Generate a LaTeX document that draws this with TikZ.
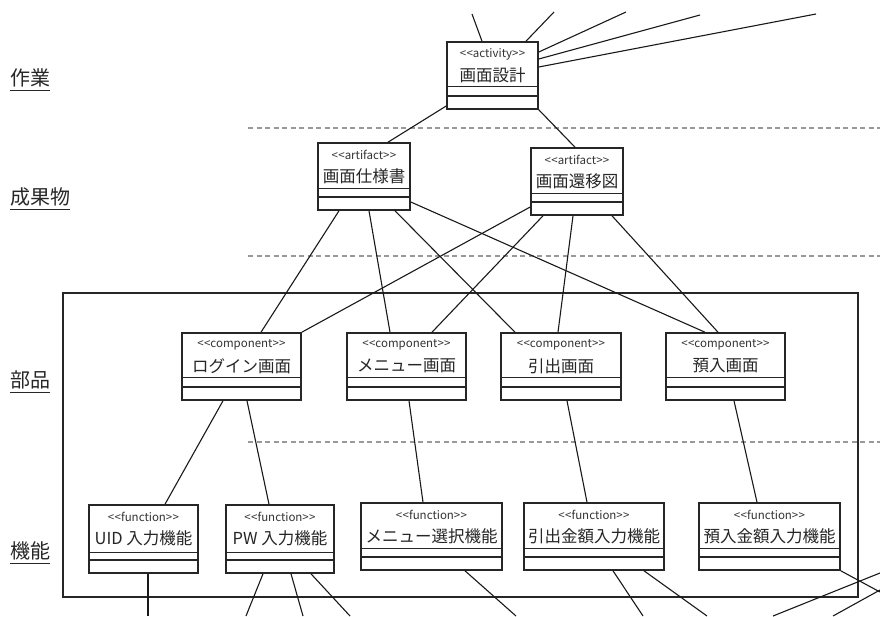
\documentclass[tikz,border=0pt]{standalone}
\usepackage{fontspec}
\setmainfont{Noto Sans CJK JP}
\usetikzlibrary{calc}

% angle brackets kept apart so that no guillemet ligature forms
\newcommand\lguil{<\kern0.3pt<}
\newcommand\rguil{>\kern0.3pt>}

% class-like box: name, left, top, right, bottom, sep1, sep2, stereotype, title
\newcommand\umlclass[9]{%
  \node[classbox, minimum width={(#4-#2)*1pt}, minimum height={(#5-#3)*1pt}]
    (#1) at ({(#2+#4)/2},{(#3+#5)/2}) {};
  \draw[septhin] (#1.west |- 0,#6) -- (#1.east |- 0,#6);
  \draw[septhick] (#1.west |- 0,#7) -- (#1.east |- 0,#7);
  \node[stereo] (#1-st) at ({(#2+#4)/2},{#3+12}) {\lguil#8\rguil};
  \node[title] (#1-ti) at ({(#2+#4)/2},{#3+33}) {#9};
}

\begin{document}
\begin{tikzpicture}[x=1pt,y=-1pt,
  classbox/.style={draw=black!85, line width=1.6pt, fill=white, inner sep=0pt},
  septhin/.style={draw=black!85, line width=1pt},
  septhick/.style={draw=black!85, line width=1.6pt},
  link/.style={draw=black!90, line width=1.1pt},
  lane/.style={draw=black!40, line width=1.6pt, dash pattern=on 5pt off 3.5pt},
  frame/.style={draw=black!85, line width=1.6pt},
  stereo/.style={font=\fontsize{11.5}{13}\selectfont, inner sep=0pt, text=black!80},
  title/.style={font=\fontsize{16.5}{18}\selectfont, inner sep=0pt, text=black!85},
  layer/.style={font=\fontsize{20}{22}\selectfont, inner sep=0pt, anchor=west, text=black!85},
]
\useasboundingbox (0,0) rectangle (880,616);

% swim-lane separators
\draw[lane] (248,128) -- (880,128);
\draw[lane] (248,256) -- (880,256);
\draw[lane] (248,442) -- (880,442);

% lane titles
\foreach \n/\t/\y in {l1/作業/78, l2/成果物/197, l3/部品/380, l4/機能/551}{
  \node[layer] (\n) at (10,\y) {\t};
  \draw[line width=0.8pt, black!85] ($(\n.south west)+(0,3)$) -- ($(\n.south east)+(0,3)$);
}

% component frame
\node[frame, minimum width=795pt, minimum height=304pt, inner sep=0pt] (frm) at (460.5,445) {};

% activity
\umlclass{act}{447}{42}{538}{109}{86}{96}{activity}{画面設計}
% artifacts
\umlclass{spec}{318}{143}{410}{210}{188}{197}{artifact}{画面仕様書}
\umlclass{trans}{531}{148}{623}{215}{193}{202}{artifact}{画面還移図}
% components
\umlclass{login}{182}{333}{301}{400}{377}{387}{component}{ログイン画面}
\umlclass{menu}{347}{333}{466}{400}{377}{387}{component}{メニュー画面}
\umlclass{draw}{501}{333}{621}{400}{377}{387}{component}{引出画面}
\umlclass{dep}{666}{333}{785}{400}{377}{387}{component}{預入画面}
% functions
\umlclass{uid}{89}{505}{198}{573}{552}{560}{function}{UID 入力機能}
\umlclass{pw}{226}{505}{334}{573}{552}{560}{function}{PW 入力機能}
\umlclass{msel}{361}{503}{502}{570}{548}{557}{function}{メニュー選択機能}
\umlclass{amt}{524}{503}{664}{570}{548}{557}{function}{引出金額入力機能}
\umlclass{damt}{699}{503}{840}{570}{548}{557}{function}{預入金額入力機能}

% loose ends leaving the sheet
\coordinate (u1) at (472,14);
\coordinate (u2) at (554,12);
\coordinate (u3) at (626,12);
\coordinate (u4) at (700,15);
\coordinate (u5) at (816,14);
\coordinate (d1) at (148,616);
\coordinate (d2) at (246,616);
\coordinate (d3) at (303,616);
\coordinate (d4) at (350,616);
\coordinate (d5) at (516,616);
\coordinate (d6) at (643,616);
\coordinate (d7) at (707,616);
\coordinate (r1) at (880,592);
\coordinate (r2) at (880,573);
\coordinate (r3) at (880,590);
\coordinate (b1) at (773,616);
\coordinate (b2) at (833,616);

% activity links
\draw[link] (act.north -| 482,0) -- (u1);
\draw[link] (act.north -| 526,0) -- (u2);
\draw[link] (act.east |- 0,52) -- (u3);
\draw[link] (act.east |- 0,59) -- (u4);
\draw[link] (act.east |- 0,67) -- (u5);
\draw[link] (act.west |- 0,106) -- (spec.north -| 388,0);
\draw[link] (act.south east) -- (trans.north -| 575,0);

% artifact -> component
\draw[link] (spec.south -| 339,0) -- (login.north -| 261,0);
\draw[link] (spec.south -| 369,0) -- (menu.north -| 390,0);
\draw[link] (spec.south -| 395,0) -- (draw.north -| 515,0);
\draw[link] (spec.east |- 0,202) -- (dep.north -| 705,0);
\draw[link] (trans.west |- 0,207) -- (login.north east);
\draw[link] (trans.south -| 543,0) -- (menu.north -| 432,0);
\draw[link] (trans.south -| 573,0) -- (draw.north -| 558,0);
\draw[link] (trans.south -| 612,0) -- (dep.north -| 718,0);

% component -> function
\draw[link] (login.south -| 223,0) -- (uid.north -| 165,0);
\draw[link] (login.south -| 247,0) -- (pw.north -| 269,0);
\draw[link] (menu.south -| 409,0) -- (msel.north -| 423,0);
\draw[link] (draw.south -| 567,0) -- (amt.north -| 587,0);
\draw[link] (dep.south -| 734,0) -- (damt.north -| 757,0);

% function links below
\draw[link] (uid.south -| 148,0) -- (d1);
\draw[link] (pw.south -| 263,0) -- (d2);
\draw[link] (pw.south -| 291,0) -- (d3);
\draw[link] (pw.south -| 311,0) -- (d4);
\draw[link] (msel.south -| 465,0) -- (d5);
\draw[link] (amt.south -| 613,0) -- (d6);
\draw[link] (amt.south -| 644,0) -- (d7);
\draw[link] (damt.south east) -- (r1);
\draw[link] (b1) -- (r2);
\draw[link] (b2) -- (r3);
\end{tikzpicture}
\end{document}
